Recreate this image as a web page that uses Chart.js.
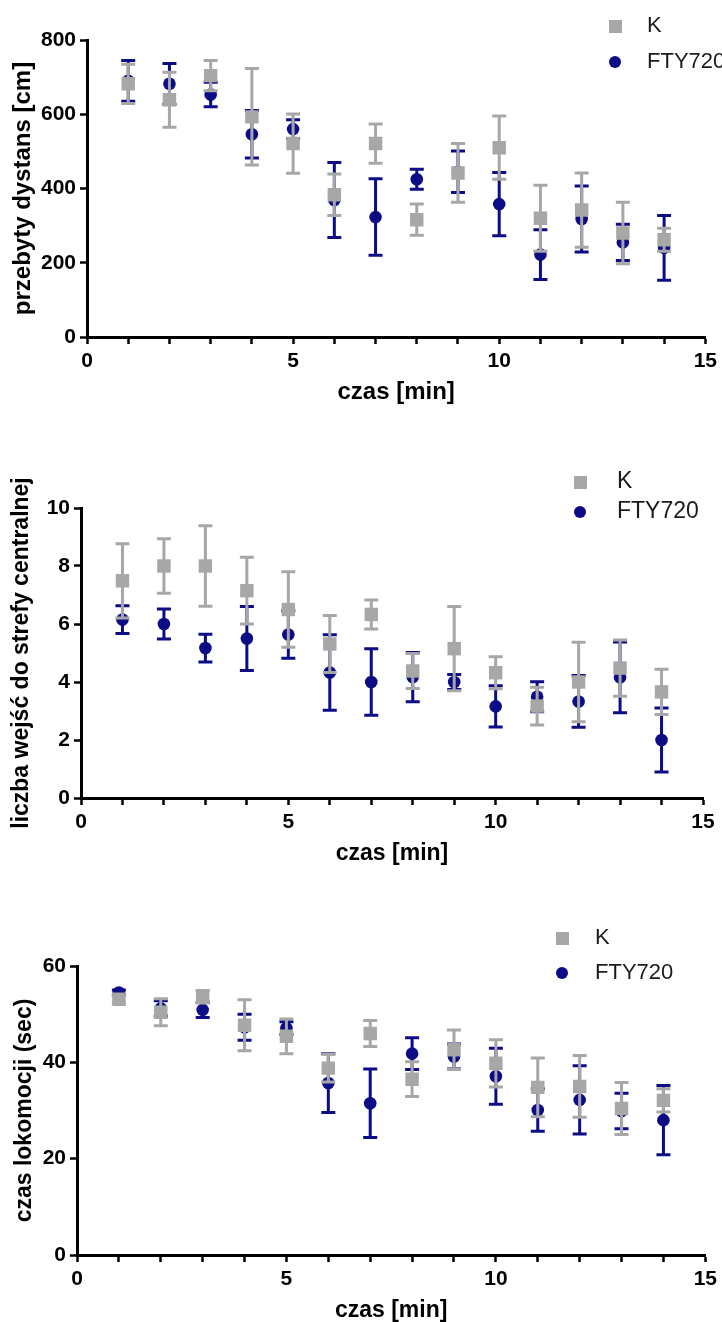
<!DOCTYPE html>
<html>
<head>
<meta charset="utf-8">
<script src="https://cdn.jsdelivr.net/npm/chart.js@4.4.1/dist/chart.umd.min.js"></script>
<style>
  html, body { margin: 0; padding: 0; background: #fff; }
  #wrap { position: relative; width: 722px; height: 1322px; overflow: hidden; }
  canvas { position: absolute; left: 0; }
</style>
</head>
<body>
<div id="wrap">
  <canvas id="c1" width="722" height="415" style="top:0px"></canvas>
  <canvas id="c2" width="722" height="430" style="top:440px"></canvas>
  <canvas id="c3" width="722" height="442" style="top:880px"></canvas>
</div>
<script>
// Time bins (minutes) shared by all three panels
const minutes = [1, 2, 3, 4, 5, 6, 7, 8, 9, 10, 11, 12, 13, 14];
const xTickLabels = [0, 5, 10, 15];

// Panel 1: distance travelled [cm], mean and SEM
const distK      = [682, 639, 704, 593, 521, 383, 521, 316, 442, 510, 320, 342, 280, 262];
const distKSem   = [53, 74, 41, 130, 80, 56, 53, 42, 79, 85, 89, 100, 83, 31];
const distF      = [690, 682, 653, 546, 560, 369, 323, 425, 445, 358, 222, 318, 255, 240];
const distFSem   = [55, 55, 33, 64, 25, 101, 103, 27, 56, 85, 67, 89, 49, 87];
const distTicks  = [0, 200, 400, 600, 800];

// Panel 2: number of entries into the central zone, mean and SEM
const entrK      = [7.49, 8.0, 8.0, 7.15, 6.5, 5.31, 6.33, 4.38, 5.15, 4.32, 3.17, 4.0, 4.48, 3.66];
const entrKSem   = [1.28, 0.94, 1.39, 1.15, 1.3, 0.98, 0.5, 0.6, 1.45, 0.55, 0.65, 1.37, 0.97, 0.78];
const entrF      = [6.15, 6.0, 5.17, 5.5, 5.64, 4.33, 4.0, 4.17, 4.0, 3.16, 3.49, 3.33, 4.16, 2.0];
const entrFSem   = [0.48, 0.52, 0.48, 1.1, 0.82, 1.3, 1.15, 0.85, 0.26, 0.71, 0.52, 0.89, 1.22, 1.1];
const entrTicks  = [0, 2, 4, 6, 8, 10];

// Panel 3: locomotion time (sec), mean and SEM
const locoK      = [53.1, 50.4, 53.6, 47.7, 45.4, 38.8, 46.0, 36.5, 42.6, 39.8, 34.8, 35.0, 30.4, 32.1];
const locoKSem   = [0.7, 2.8, 1.3, 5.3, 3.6, 2.9, 2.7, 3.6, 4.1, 4.9, 6.1, 6.4, 5.4, 2.4];
const locoF      = [54.5, 51.2, 50.9, 47.3, 47.1, 35.7, 31.5, 41.8, 41.2, 37.1, 30.1, 32.2, 29.9, 28.0];
const locoFSem   = [0.5, 1.6, 1.6, 2.7, 1.3, 6.1, 7.1, 3.3, 2.6, 5.8, 4.4, 7.1, 3.7, 7.2];
const locoTicks  = [0, 20, 40, 60];

const GRAY = '#a7a7a7';
const NAVY = '#0c0c86';
const FONT = '"Liberation Sans", Arial, Helvetica, sans-serif';

// Small swatches used as legend markers
function swatch(kind, color, size) {
  const c = document.createElement('canvas');
  c.width = size; c.height = size;
  const g = c.getContext('2d');
  g.fillStyle = color;
  if (kind === 'rect') {
    g.fillRect(0, 0, size, size);
  } else {
    g.beginPath();
    g.arc(size / 2, size / 2, size / 2, 0, Math.PI * 2);
    g.fill();
  }
  return c;
}
const legendMarks = [swatch('rect', GRAY, 13), swatch('circle', NAVY, 12)];

// Mean ± SEM whiskers, drawn just before each dataset's markers
const errorBars = {
  id: 'errorBars',
  beforeDatasetDraw(chart, args) {
    const ds = chart.data.datasets[args.index];
    if (!ds.sem) return;
    const xs = chart.scales.x, ys = chart.scales.y, ctx = chart.ctx;
    ctx.save();
    ctx.strokeStyle = ds.backgroundColor;
    ctx.lineWidth = 3;
    ctx.lineCap = 'butt';
    ds.data.forEach((p, j) => {
      const px = xs.getPixelForValue(p.x);
      const hi = ys.getPixelForValue(p.y + ds.sem[j]);
      const lo = ys.getPixelForValue(p.y - ds.sem[j]);
      const cap = 7;
      ctx.beginPath();
      ctx.moveTo(px, hi); ctx.lineTo(px, lo);
      ctx.moveTo(px - cap, hi); ctx.lineTo(px + cap, hi);
      ctx.moveTo(px - cap, lo); ctx.lineTo(px + cap, lo);
      ctx.stroke();
    });
    ctx.restore();
  }
};

// Puts the stacked legend in the upper right corner of the panel
const legendPlacer = {
  id: 'legendPlacer',
  afterLayout(chart, args, opts) {
    const lg = chart.legend;
    if (!lg) return;
    lg.left = opts.x;
    lg.top = opts.y;
    lg.right = chart.width;
    lg.bottom = opts.y + 140;
    lg.width = lg.right - lg.left;
    lg.height = 140;
  }
};

function buildPanel(id, s) {
  const pts = arr => minutes.map((m, i) => ({ x: m, y: arr[i] }));
  const tickFont = { family: FONT, size: 21, weight: 'bold' };
  const titleFont = { family: FONT, size: s.titleSize, weight: 'bold', lineHeight: 1 };
  const gridOpts = { display: true, drawOnChartArea: false, drawTicks: true, tickLength: 7, tickWidth: 2.5, tickColor: '#000' };
  const borderOpts = { display: true, color: '#000', width: 3 };
  const lg = s.legend;

  return new Chart(document.getElementById(id), {
    type: 'scatter',
    data: {
      datasets: [
        { label: 'K', data: pts(s.kMean), sem: s.kSem, backgroundColor: GRAY, borderColor: GRAY,
          pointStyle: 'rect', pointRadius: 9.5, pointHoverRadius: 9.5, pointBorderWidth: 0, showLine: false, order: 0 },
        { label: 'FTY720', data: pts(s.fMean), sem: s.fSem, backgroundColor: NAVY, borderColor: NAVY,
          pointStyle: 'circle', pointRadius: 6.3, pointHoverRadius: 6.3, pointBorderWidth: 0, showLine: false, order: 1 }
      ]
    },
    options: {
      responsive: false,
      devicePixelRatio: 1,
      animation: false,
      events: [],
      layout: { padding: { left: 0, top: s.area.t, right: 722 - s.area.r, bottom: 0 } },
      scales: {
        x: {
          type: 'linear', position: 'bottom', min: 0, max: 15,
          ticks: { stepSize: 1, autoSkip: false, maxRotation: 0, padding: 5, color: '#000', font: tickFont,
                   callback: v => xTickLabels.includes(v) ? String(v) : '' },
          grid: gridOpts,
          border: borderOpts,
          title: { display: true, text: 'czas [min]', color: '#000', font: titleFont, padding: { top: 0, bottom: s.xTitlePad } },
          afterFit: sc => { sc.height = s.canvasH - s.area.b; }
        },
        y: {
          type: 'linear', position: 'left', min: 0, max: s.yMax,
          afterBuildTicks: sc => { sc.ticks = s.yTicks.map(v => ({ value: v })); },
          ticks: { padding: 4, color: '#000', font: tickFont },
          grid: gridOpts,
          border: borderOpts,
          title: { display: true, text: s.yTitle, color: '#000', font: titleFont, padding: { top: s.yTitlePad, bottom: 0 } },
          afterFit: sc => { sc.width = s.area.l; }
        }
      },
      plugins: {
        tooltip: { enabled: false },
        legend: {
          position: 'chartArea',
          align: 'start',
          labels: {
            usePointStyle: true,
            pointStyleWidth: lg.sw,
            padding: lg.pad,
            color: '#1b1b1b',
            font: { family: FONT, size: lg.fs },
            generateLabels: chart => chart.data.datasets.map((ds, i) => ({
              text: ds.label, pointStyle: legendMarks[i], fillStyle: ds.backgroundColor,
              strokeStyle: ds.backgroundColor, lineWidth: 0, hidden: false, datasetIndex: i, fontColor: '#1b1b1b'
            }))
          }
        },
        legendPlacer: { x: lg.cx - lg.pad - lg.sw / 2, y: lg.cy - lg.pad - lg.fs / 2 }
      }
    },
    plugins: [errorBars, legendPlacer]
  });
}

buildPanel('c1', {
  kMean: distK, kSem: distKSem, fMean: distF, fSem: distFSem,
  yMax: 800, yTicks: distTicks, yTitle: 'przebyty dystans [cm]',
  canvasH: 415, area: { l: 87, t: 40, r: 707, b: 337 },
  titleSize: 24, yTitlePad: 11, xTitlePad: 11,
  legend: { cx: 615, cy: 26, sw: 42, pad: 14, fs: 22 }
});

buildPanel('c2', {
  kMean: entrK, kSem: entrKSem, fMean: entrF, fSem: entrFSem,
  yMax: 10, yTicks: entrTicks, yTitle: 'liczba wejść do strefy centralnej',
  canvasH: 430, area: { l: 81, t: 68, r: 703, b: 358 },
  titleSize: 23, yTitlePad: 10, xTitlePad: 5,
  legend: { cx: 580, cy: 42, sw: 51, pad: 7, fs: 23 }
});

buildPanel('c3', {
  kMean: locoK, kSem: locoKSem, fMean: locoF, fSem: locoFSem,
  yMax: 60, yTicks: locoTicks, yTitle: 'czas lokomocji (sec)',
  canvasH: 442, area: { l: 77, t: 86, r: 706, b: 375 },
  titleSize: 23, yTitlePad: 13, xTitlePad: 0,
  legend: { cx: 562, cy: 58, sw: 44, pad: 13, fs: 22 }
});
</script>
</body>
</html>
